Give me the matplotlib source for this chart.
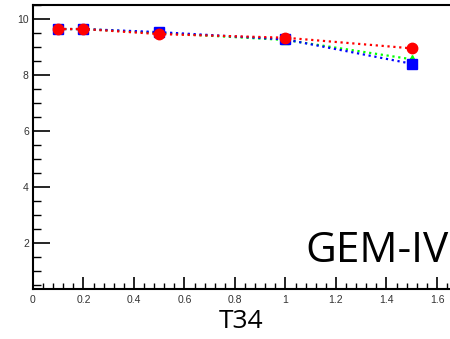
import matplotlib.pyplot as plt
from matplotlib.ticker import MultipleLocator

t34 = [0.1, 0.2, 0.5, 1.0, 1.5]
red_vals = [9.64, 9.64, 9.46, 9.33, 8.95]
green_vals = [9.64, 9.64, 9.50, 9.25, 8.56]
blue_vals = [9.64, 9.64, 9.53, 9.27, 8.40]

fig = plt.figure(figsize=(4.5, 3.39), dpi=100)
ax = fig.add_axes([0.0733, 0.1475, 0.9267, 0.8378])

ax.plot(t34, green_vals, color='#00ff00', linestyle=':', linewidth=1.6,
        marker='^', markersize=6, zorder=3)
ax.plot(t34, blue_vals, color='#0000ff', linestyle=':', linewidth=1.6,
        marker='s', markersize=7, zorder=4)
ax.plot(t34, red_vals, color='#ff0000', linestyle=':', linewidth=1.6,
        marker='o', markersize=7.5, zorder=5)

ax.set_xlim(0, 1.6515)
ax.set_ylim(0.35, 10.5)

ax.xaxis.set_minor_locator(MultipleLocator(0.04))
ax.yaxis.set_minor_locator(MultipleLocator(0.5))
ax.set_xticks([0, 0.2, 0.4, 0.6, 0.8, 1.0, 1.2, 1.4, 1.6])
ax.set_xticklabels(['0', '0.2', '0.4', '0.6', '0.8', '1', '1.2', '1.4', '1.6'],
                   family='Liberation Sans')
ax.set_yticks([2, 4, 6, 8, 10])
ax.set_yticklabels(['2', '4', '6', '8', '10'], family='Liberation Sans')

ax.tick_params(axis='both', which='both', direction='in', labelsize=7.5,
               colors='black', labelcolor='#333333')
ax.tick_params(axis='y', which='major', length=12, width=1.2, pad=3)
ax.tick_params(axis='y', which='minor', length=6, width=1)
ax.tick_params(axis='x', which='major', length=9, width=1.2, pad=4)
ax.tick_params(axis='x', which='minor', length=4, width=1)

ax.spines['right'].set_visible(False)
for side in ['left', 'bottom', 'top']:
    ax.spines[side].set_linewidth(1.5)

ax.set_xlabel('T34', fontsize=19, family='Open Sans', labelpad=3)
# label runs off the right edge in the original too
ax.text(0.652, 0.096, 'GEM-IV', transform=ax.transAxes, fontsize=30.5,
        family='Open Sans', ha='left', va='baseline', clip_on=False)

fig.savefig('out.png', dpi=100)
